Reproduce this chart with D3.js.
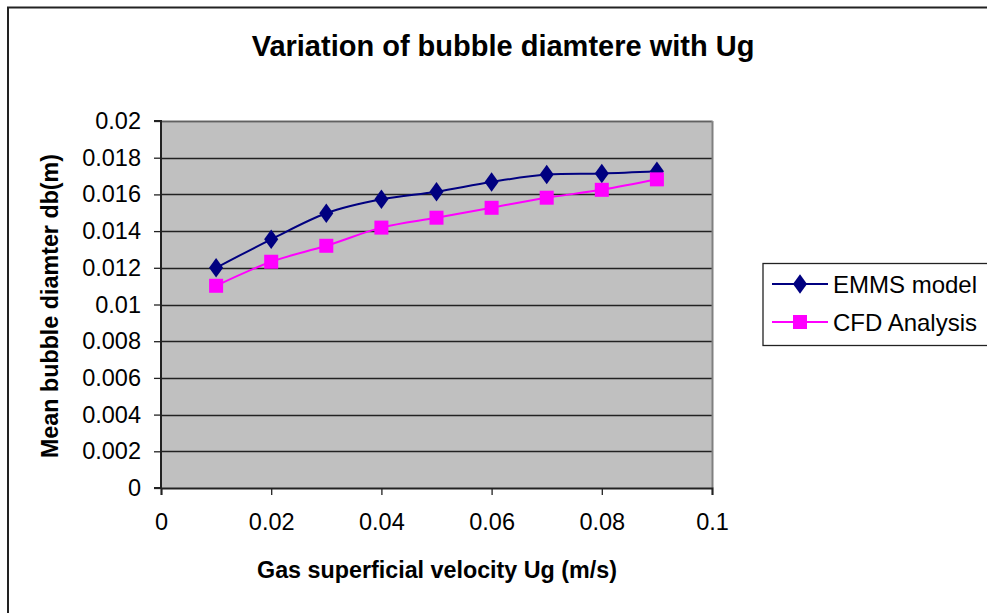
<!DOCTYPE html>
<html><head><meta charset="utf-8">
<script src="https://cdn.jsdelivr.net/npm/d3@7"></script>
<style>body{margin:0;background:#fff}svg{display:block}text{font-family:"Liberation Sans",Arial,sans-serif}</style>
</head><body>
<svg id="c" width="987" height="613"></svg>
<script>
const ugValues = [0.01,0.02,0.03,0.04,0.05,0.06,0.07,0.08,0.09];
const emmsModel = [0.0120,0.01355,0.01497,0.01573,0.01615,0.01668,0.01708,0.01714,0.01726];
const cfdAnalysis = [0.01102,0.01233,0.0132,0.01419,0.01473,0.01527,0.01582,0.01625,0.01682];
const xTicks = [0,0.02,0.04,0.06,0.08,0.1];
const yTicks = [0,0.002,0.004,0.006,0.008,0.01,0.012,0.014,0.016,0.018,0.02];
const seriesNames = ["EMMS model","CFD Analysis"];

const svg = d3.select("#c");
const L=161,R=712,T=121,B=488;
const x = d3.scaleLinear().domain([0,0.1]).range([L,R]);
const y = d3.scaleLinear().domain([0,0.02]).range([B,T]);

// outer border
svg.append("path").attr("d","M8,613 V7.5 H987").attr("fill","none").attr("stroke","#222").attr("stroke-width",2);

svg.append("text").attr("x",503).attr("y",56).attr("text-anchor","middle")
  .attr("font-size",29).attr("font-weight","bold").text("Variation of bubble diamtere with Ug");

svg.append("rect").attr("x",L).attr("y",T).attr("width",R-L).attr("height",B-T).attr("fill","#c0c0c0");
// gridlines
svg.append("g").selectAll("line").data(yTicks.filter(d=>d>0)).join("line")
  .attr("x1",L).attr("x2",R).attr("y1",d=>Math.round(y(d))+0.5).attr("y2",d=>Math.round(y(d))+0.5)
  .attr("stroke","#222").attr("stroke-width",1.3);
svg.append("line").attr("x1",R+0.5).attr("x2",R+0.5).attr("y1",T).attr("y2",B).attr("stroke","#808080").attr("stroke-width",2);
svg.append("line").attr("x1",L).attr("x2",R+1).attr("y1",T).attr("y2",T).attr("stroke","#a0a0a0").attr("stroke-width",1);

const fmt = d=> d===0?"0":String(+d.toFixed(3));
const yAxis = d3.axisLeft(y).tickValues(yTicks).tickFormat(fmt).tickSize(7).tickPadding(13);
const gy = svg.append("g").attr("transform",`translate(${L},0)`).call(yAxis);
const xAxis = d3.axisBottom(x).tickValues(xTicks).tickFormat(fmt).tickSize(7).tickPadding(18);
const gx = svg.append("g").attr("transform",`translate(0,${B})`).call(xAxis);
[gy,gx].forEach(g=>{
  g.select(".domain").attr("stroke","#222").attr("stroke-width",2);
  g.selectAll(".tick line").attr("stroke","#222").attr("stroke-width",1.3);
  g.selectAll("text").attr("font-size",23.5).attr("fill","#000").attr("font-family","'Liberation Sans',Arial,sans-serif");
});
gy.select(".domain").attr("d",`M-7,${T}H0V${B}H-7`);

svg.append("text").attr("x",437).attr("y",578).attr("text-anchor","middle")
  .attr("font-size",23.3).attr("font-weight","bold").text("Gas superficial velocity Ug (m/s)");
svg.append("text").attr("transform","translate(58,306) rotate(-90)").attr("text-anchor","middle")
  .attr("font-size",23.3).attr("font-weight","bold").text("Mean bubble diamter db(m)");

const line = d3.line().x((d,i)=>x(ugValues[i])).y(d=>y(d)).curve(d3.curveCardinal.tension(0));
const colors = ["#000080","#ff00ff"];
const series=[emmsModel,cfdAnalysis];
series.forEach((s,k)=>{
  svg.append("path").datum(s).attr("d",line).attr("fill","none").attr("stroke",colors[k]).attr("stroke-width",2);
});
const diamond = d3.symbol().type(d3.symbolDiamond).size(110);
svg.append("g").selectAll("path").data(emmsModel).join("path")
  .attr("transform",(d,i)=>`translate(${x(ugValues[i])},${y(d)}) scale(1.25,1)`).attr("d",diamond).attr("fill",colors[0]);
svg.append("g").selectAll("rect").data(cfdAnalysis).join("rect")
  .attr("x",(d,i)=>x(ugValues[i])-7).attr("y",d=>y(d)-7).attr("width",14).attr("height",14).attr("fill",colors[1]);

// legend
svg.append("rect").attr("x",763).attr("y",263.5).attr("width",230).attr("height",82).attr("fill","#fff").attr("stroke","#222").attr("stroke-width",1.3);
const ly=[284,322];
seriesNames.forEach((n,k)=>{
  svg.append("line").attr("x1",772).attr("x2",828).attr("y1",ly[k]).attr("y2",ly[k]).attr("stroke",colors[k]).attr("stroke-width",2);
  if(k===0) svg.append("path").attr("transform",`translate(800,${ly[k]}) scale(1.25,1)`).attr("d",diamond).attr("fill",colors[0]);
  else svg.append("rect").attr("x",793).attr("y",ly[k]-7).attr("width",14).attr("height",14).attr("fill",colors[1]);
  svg.append("text").attr("x",833).attr("y",ly[k]+8.5).attr("font-size",24).text(n);
});
</script>
</body></html>
